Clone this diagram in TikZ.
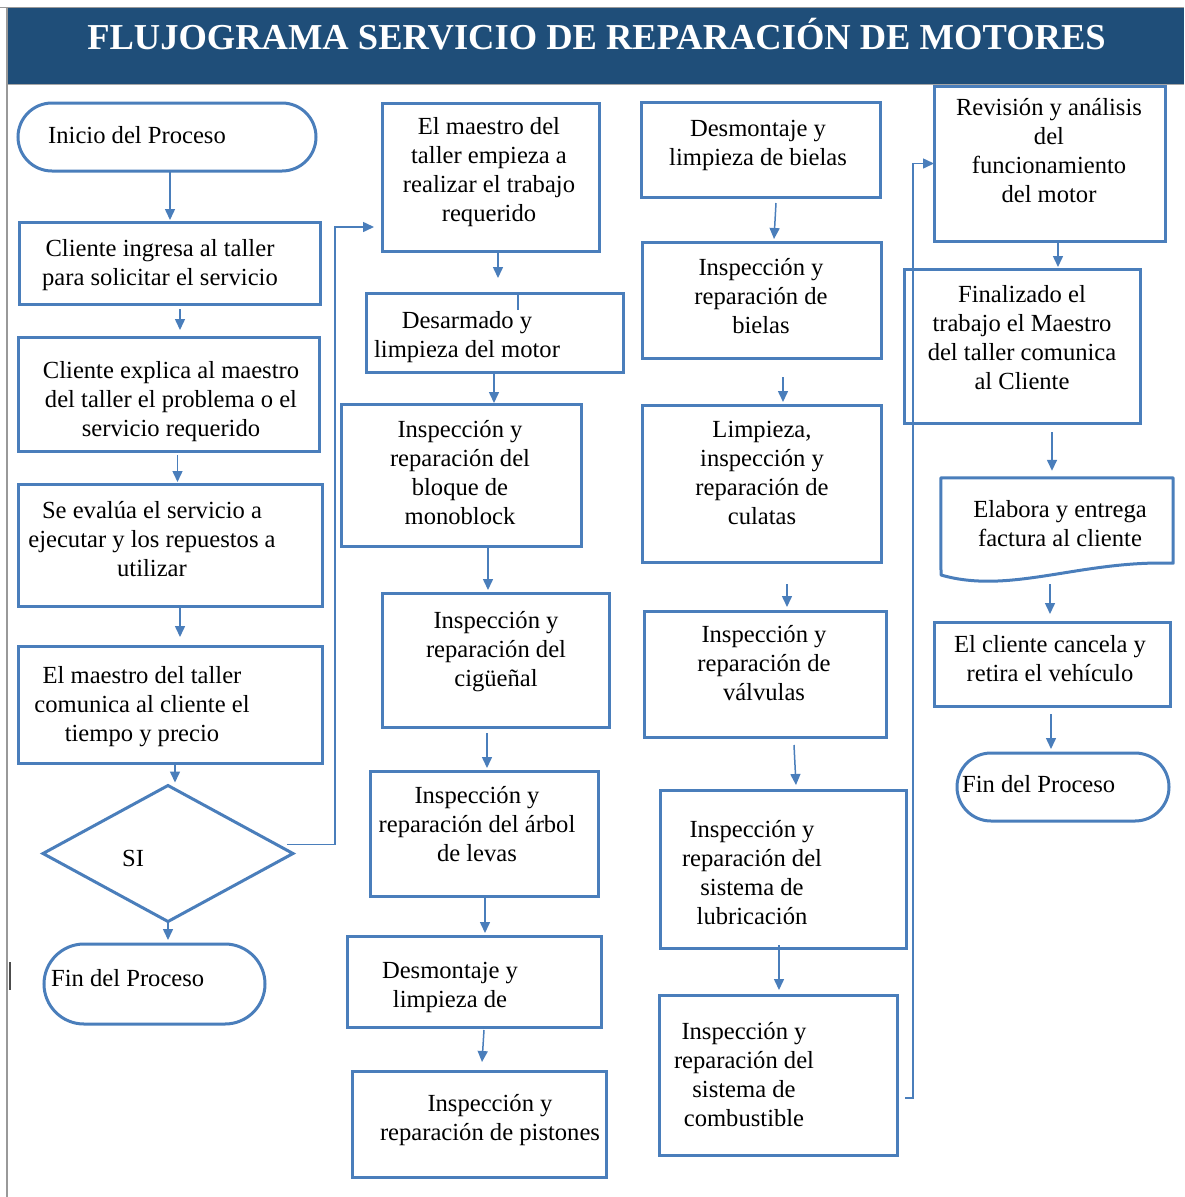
\documentclass[tikz,border=0pt]{standalone}
\usepackage{fontspec}
\setmainfont{Liberation Serif}
\usetikzlibrary{arrows.meta,shapes.geometric,shapes.misc,calc}
\definecolor{flowblue}{RGB}{74,126,187}
\definecolor{bandblue}{RGB}{31,78,121}
\tikzset{
  box/.style={draw=flowblue, line width=3pt, rectangle, inner sep=0pt, outer sep=0pt},
  term/.style={box, rounded rectangle},
  % multi-line labels are placed by the baseline of their last line
  txt/.style={align=center, anchor=base, inner sep=0pt, text=black},
  ltxt/.style={anchor=base west, inner sep=0pt, text=black},
  arr/.style={draw=flowblue, line width=1.5pt, -{Triangle[length=11pt,width=10pt]}},
  conn/.style={draw=flowblue, line width=1.5pt},
}
\begin{document}
\begin{tikzpicture}[x=1pt, y=-1pt, font=\fontsize{24.6}{29}\selectfont]
\useasboundingbox[fill=white] (0,0) rectangle (1184,1197);

% title band and page frame
\fill[bandblue] (7,7) rectangle (1184,84);
\draw[gray!80, line width=1pt] (0,7) -- (1184,7);
\draw[gray!70, line width=1pt] (7,84) -- (1184,84);
\draw[gray!80, line width=1.2pt] (7,7) -- (7,1197);
\draw[black!70, line width=2pt] (10,962) -- (10,990);
\node[font=\bfseries\fontsize{36.5}{40}\selectfont, text=white, anchor=base, inner sep=0pt] (title) at (596.5,49.5) {FLUJOGRAMA SERVICIO DE REPARACIÓN DE MOTORES};

% first column: reception of the vehicle
\node[term, minimum width=298pt, minimum height=68pt] (c1) at (167,137) {};
\node[ltxt] (tc1) at (48,143) {Inicio del Proceso};
\node[box, minimum width=301pt, minimum height=82pt] (b1) at (169.5,263) {};
\node[txt] (tb1) at (160,285) {Cliente ingresa al taller\\para solicitar el servicio};
\node[box, minimum width=301pt, minimum height=114pt] (b2) at (168.5,394) {};
\node[txt] (tb2) at (171,436) {Cliente explica al maestro\\del taller el problema o el\\servicio requerido};
\node[box, minimum width=304pt, minimum height=122pt] (b3) at (170,545) {};
\node[txt] (tb3) at (152,576) {Se evalúa el servicio a\\ejecutar y los repuestos a\\utilizar};
\node[box, minimum width=304pt, minimum height=117pt] (b4) at (170,704.5) {};
\node[txt] (tb4) at (142,741) {El maestro del taller\\comunica al cliente el\\tiempo y precio};
\node[box, diamond, minimum width=250pt, minimum height=136pt] (d) at (168,853.5) {};
\node[ltxt] (td) at (122,866) {SI};
\node[term, minimum width=221pt, minimum height=80pt] (f1) at (154.5,984) {};
\node[ltxt] (tf1) at (51,986) {Fin del Proceso};

% second column: engine disassembly
\node[box, minimum width=217pt, minimum height=148pt] (m1) at (490.5,177) {};
\node[txt] (tm1) at (489,221) {El maestro del\\taller empieza a\\realizar el trabajo\\requerido};
\node[box, minimum width=257pt, minimum height=79pt] (m2) at (494.5,332.5) {};
\node[txt] (tm2) at (467,357) {Desarmado y\\limpieza del motor};
\node[box, minimum width=240pt, minimum height=142pt] (m3) at (461,475) {};
\node[txt] (tm3) at (460,524) {Inspección y\\reparación del\\bloque de\\monoblock};
\node[box, minimum width=227pt, minimum height=134pt] (m4) at (495.5,660) {};
\node[txt] (tm4) at (496,686) {Inspección y\\reparación del\\cigüeñal};
\node[box, minimum width=228pt, minimum height=125pt] (m5) at (484,833.5) {};
\node[txt] (tm5) at (477,861) {Inspección y\\reparación del árbol\\de levas};
\node[box, minimum width=254pt, minimum height=91pt] (m6) at (474,981.5) {};
\node[txt] (tm6) at (450,1007) {Desmontaje y\\limpieza de};
\node[box, minimum width=254pt, minimum height=106pt] (m7) at (479,1124) {};
\node[txt] (tm7) at (490,1140) {Inspección y\\reparación de pistones};

% third column: component repair
\node[box, minimum width=239pt, minimum height=95pt] (r1) at (760.5,149.5) {};
\node[txt] (tr1) at (758,165) {Desmontaje y\\limpieza de bielas};
\node[box, minimum width=239pt, minimum height=116pt] (r2) at (761.5,300) {};
\node[txt] (tr2) at (761,333) {Inspección y\\reparación de\\bielas};
\node[box, minimum width=239pt, minimum height=157pt] (r3) at (761.5,483.5) {};
\node[txt] (tr3) at (762,524) {Limpieza,\\inspección y\\reparación de\\culatas};
\node[box, minimum width=242pt, minimum height=126pt] (r4) at (765,674) {};
\node[txt] (tr4) at (764,700) {Inspección y\\reparación de\\válvulas};
\node[box, minimum width=246pt, minimum height=158pt] (r5) at (783,869) {};
\node[txt] (tr5) at (752,924) {Inspección y\\reparación del\\sistema de\\lubricación};
\node[box, minimum width=238pt, minimum height=160pt] (r6) at (778,1075) {};
\node[txt] (tr6) at (744,1126) {Inspección y\\reparación del\\sistema de\\combustible};

% fourth column: delivery
\node[box, minimum width=231pt, minimum height=155pt] (s1) at (1049.5,163.5) {};
\node[txt] (ts1) at (1049,202) {Revisión y análisis\\del\\funcionamiento\\del motor};
\node[box, minimum width=236pt, minimum height=154pt] (s2) at (1022,346) {};
\node[txt] (ts2) at (1022,389) {Finalizado el\\trabajo el Maestro\\del taller comunica\\al Cliente};
\node[minimum width=232pt, minimum height=85pt, inner sep=0pt] (s3) at (1057,520.5) {};
\draw[flowblue, line width=3pt, line join=round]
  (s3.north west) -- (s3.north east) -- (s3.south east)
  .. controls (1080,560) and (1010,595) .. (941,575) -- cycle;
\node[txt] (ts3) at (1060,546) {Elabora y entrega\\factura al cliente};
\node[box, minimum width=236pt, minimum height=84pt] (s4) at (1052,664) {};
\node[txt] (ts4) at (1050,681) {El cliente cancela y\\retira el vehículo};
\node[term, minimum width=212pt, minimum height=68pt] (f2) at (1063,787) {};
\node[ltxt] (tf2) at (962,792) {Fin del Proceso};

% flow arrows
\draw[arr] ([shift={(3,1)}]c1.south) -- ([shift={(0.5,-2)}]b1.north);
\draw[arr] ([shift={(10.5,5)}]b1.south) -- ([shift={(11.5,-7)}]b2.north);
\draw[arr] ([shift={(9,4)}]b2.south) -- ([shift={(7.5,-2)}]b3.north);
\draw[arr] ([shift={(10,2)}]b3.south) -- ([shift={(10,-9)}]b4.north);
\draw[arr] ([shift={(5,2)}]b4.south) -- ([shift={(7,-3)}]d.north);
\draw[arr] ([shift={(0,1)}]d.south) -- ([shift={(13.5,-4)}]f1.north);
\draw[arr] ([shift={(-6,-9)}]d.east) -| ([shift={(-47,50)}]m1.west) -- ([shift={(-8,50)}]m1.west);

\draw[arr] ([shift={(7.5,2)}]m1.south) -- ([shift={(3.5,-15)}]m2.north);
\draw[conn] ([shift={(23.5,0)}]m2.north) -- ++(0,17);
\draw[arr] ([shift={(-0.5,0)}]m2.south) -- ([shift={(33,-1)}]m3.north);
\draw[arr] ([shift={(27,2)}]m3.south) -- ([shift={(-7.5,-3)}]m4.north);
\draw[arr] ([shift={(-8.5,6)}]m4.south) -- ([shift={(3,-3)}]m5.north);
\draw[arr] ([shift={(1,2)}]m5.south) -- ([shift={(11,-3)}]m6.north);
\draw[arr] ([shift={(10,3)}]m6.south) -- ([shift={(3,-9)}]m7.north);

\draw[arr] ([shift={(15.5,6)}]r1.south) -- ([shift={(12.5,-3)}]r2.north);
\draw[arr] ([shift={(21.5,19)}]r2.south) -- ([shift={(21.5,-3)}]r3.north);
\draw[arr] ([shift={(25.5,22)}]r3.south) -- ([shift={(22,-4)}]r4.north);
\draw[arr] ([shift={(29,8)}]r4.south) -- ([shift={(13,-5)}]r5.north);
\draw[arr] ([shift={(-4,-3)}]r5.south) -- ([shift={(1,-5)}]r6.north);
\draw[arr] ([shift={(8,23)}]r6.east) -| ([shift={(-21,0)}]s1.west) -- (s1.west);

\draw[arr] ([shift={(8.5,2)}]s1.south) -- ([shift={(36,-2)}]s2.north);
\draw[arr] ([shift={(30,9)}]s2.south) -- ([shift={(-5,-7)}]s3.north);
\draw[arr] ([shift={(-7,21)}]s3.south) -- ([shift={(-2,-8)}]s4.north);
\draw[arr] ([shift={(-1,8)}]s4.south) -- ([shift={(-12,-4)}]f2.north);
\end{tikzpicture}
\end{document}
